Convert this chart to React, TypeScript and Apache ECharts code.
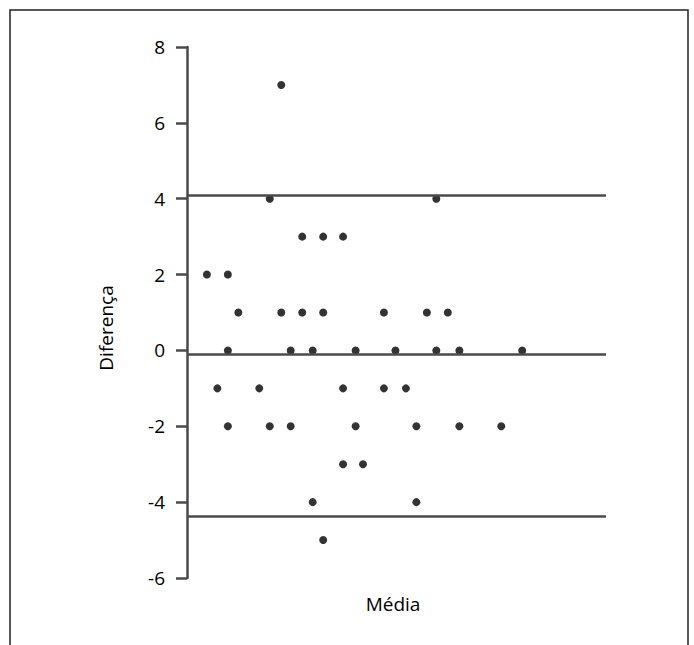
import React, { useEffect, useRef } from "react";
import * as echarts from "echarts";

// Bland-Altman data: mean of the two measurements (arbitrary units, read from position) and difference
const mediaValues = [
  9.0,
  7.9, 23.8,
  11.0, 13.0, 14.9,
  1.9, 3.9,
  4.9, 9.0, 11.0, 13.0, 18.8, 22.9, 24.9,
  3.9, 9.9, 12.0, 16.1, 19.9, 23.8, 26.0, 32.0,
  2.9, 6.9, 14.9, 18.8, 20.9,
  3.9, 7.9, 9.9, 16.1, 21.9, 26.0, 30.0,
  14.9, 16.8,
  12.0, 21.9,
  13.0,
];
const diferencaValues = [
  7,
  4, 4,
  3, 3, 3,
  2, 2,
  1, 1, 1, 1, 1, 1, 1,
  0, 0, 0, 0, 0, 0, 0, 0,
  -1, -1, -1, -1, -1,
  -2, -2, -2, -2, -2, -2, -2,
  -3, -3,
  -4, -4,
  -5,
];
const upperLimit = 4.1;
const meanDifference = -0.1;
const lowerLimit = -4.38;
const yMin = -6;
const yMax = 8;
const yInterval = 2;
const xMin = 0;
const xMax = 40;
const xTitle = "Média";
const yTitle = "Diferença";

export default function App() {
  const ref = useRef<HTMLDivElement>(null);
  useEffect(() => {
    if (!ref.current) return;
    const chart = echarts.init(ref.current, null, { renderer: "svg" });
    const points = mediaValues.map((m, i) => [m, diferencaValues[i]]);
    const font = "'Open Sans', 'Noto Sans', sans-serif";
    chart.setOption({
      animation: false,
      backgroundColor: "#ffffff",
      grid: { left: 187, right: 88, top: 47, bottom: 67 },
      xAxis: {
        type: "value",
        min: xMin,
        max: xMax,
        show: false,
      },
      yAxis: {
        type: "value",
        min: yMin,
        max: yMax,
        interval: yInterval,
        axisLine: { show: true, lineStyle: { color: "#4a4a4a", width: 2.5 } },
        axisTick: { show: true, inside: false, length: 11, lineStyle: { color: "#4a4a4a", width: 2.5 } },
        axisLabel: { color: "#000", fontSize: 19, fontFamily: font, margin: 22 },
        splitLine: { show: false },
      },
      graphic: [
        {
          type: "polyline",
          shape: { points: [[10, 650], [10, 10], [688, 10], [688, 650]] },
          style: { stroke: "#222", lineWidth: 1.5, fill: "none" },
        },
        {
          type: "text",
          x: 106,
          y: 328,
          rotation: Math.PI / 2,
          style: {
            text: yTitle,
            fontSize: 19,
            fontFamily: font,
            fill: "#000",
            align: "center",
            verticalAlign: "middle",
          },
        },
        {
          type: "text",
          x: 393,
          y: 604,
          style: {
            text: xTitle,
            fontSize: 19,
            fontFamily: font,
            fill: "#000",
            align: "center",
            verticalAlign: "middle",
          },
        },
      ],
      series: [
        {
          type: "scatter",
          data: points,
          symbol: "circle",
          symbolSize: 8,
          itemStyle: { color: "#000" },
          markLine: {
            silent: true,
            symbol: "none",
            label: { show: false },
            lineStyle: { color: "#4a4a4a", width: 2.5, type: "solid" },
            data: [{ yAxis: upperLimit }, { yAxis: meanDifference }, { yAxis: lowerLimit }],
          },
        },
      ],
    });
    return () => chart.dispose();
  }, []);
  return (
    <div
      ref={ref}
      style={{ position: "fixed", left: 0, top: 0, width: 694, height: 645, background: "#fff" }}
    />
  );
}
